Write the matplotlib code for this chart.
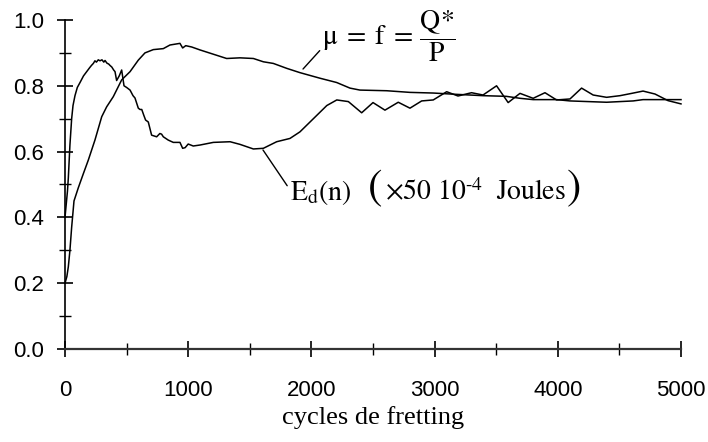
import matplotlib
matplotlib.use("Agg")
import matplotlib.pyplot as plt
from matplotlib.ticker import MultipleLocator, FormatStrFormatter

# ---- data ----
ed_n = [0, 10, 20, 27, 40, 54, 65, 81, 100, 122, 150, 176, 200, 215, 230, 243, 255, 270,
        284, 300, 315, 325, 340, 355, 365, 380, 395, 406, 419, 440, 460, 479, 500, 528,
        552, 568, 595, 609, 623, 640, 654, 676, 703, 744, 770, 784, 798, 838, 879, 933,
        955, 975, 1000, 1041, 1096, 1204, 1340, 1420, 1529, 1610, 1718, 1826, 1907, 2016,
        2125, 2206, 2300, 2408, 2500, 2597, 2705, 2800, 2895, 2989, 3098, 3190, 3300,
        3393, 3503, 3597, 3693, 3800, 3896, 3990, 4099, 4193, 4287, 4396, 4505, 4600,
        4692, 4789, 4894, 5000]
ed_val = [0.40, 0.44, 0.48, 0.52, 0.62, 0.70, 0.74, 0.77, 0.795, 0.81, 0.83, 0.843, 0.855,
          0.862, 0.868, 0.876, 0.872, 0.879, 0.876, 0.879, 0.872, 0.877, 0.869, 0.866,
          0.862, 0.857, 0.848, 0.843, 0.816, 0.83, 0.848, 0.80, 0.795, 0.787, 0.77, 0.763,
          0.732, 0.728, 0.728, 0.71, 0.696, 0.69, 0.65, 0.645, 0.655, 0.653, 0.645, 0.635,
          0.628, 0.628, 0.61, 0.612, 0.623, 0.617, 0.62, 0.628, 0.63, 0.622, 0.608, 0.61,
          0.63, 0.64, 0.66, 0.70, 0.74, 0.757, 0.752, 0.718, 0.749, 0.726, 0.75, 0.732,
          0.754, 0.757, 0.782, 0.769, 0.779, 0.772, 0.80, 0.749, 0.777, 0.762, 0.779,
          0.757, 0.76, 0.793, 0.772, 0.765, 0.77, 0.777, 0.784, 0.775, 0.755, 0.745]

mu_n = [0, 15, 27, 40, 54, 73, 108, 149, 189, 243, 298, 338, 392, 460, 528, 595, 649, 717,
        798, 852, 933, 955, 980, 1028, 1096, 1204, 1312, 1420, 1529, 1610, 1691, 1800,
        1907, 2070, 2205, 2313, 2394, 2611, 2800, 2989, 3178, 3393, 3581, 3693, 3800,
        3990, 4099, 4396, 4612, 4692, 5000]
mu_val = [0.20, 0.22, 0.25, 0.30, 0.37, 0.45, 0.49, 0.533, 0.574, 0.635, 0.706, 0.736,
          0.767, 0.818, 0.843, 0.878, 0.90, 0.91, 0.913, 0.924, 0.929, 0.915, 0.922, 0.918,
          0.909, 0.896, 0.883, 0.885, 0.883, 0.873, 0.868, 0.853, 0.84, 0.823, 0.81, 0.793,
          0.787, 0.785, 0.78, 0.778, 0.774, 0.77, 0.768, 0.762, 0.758, 0.758, 0.754, 0.75,
          0.754, 0.758, 0.758]

xlabel = "cycles de fretting"
mu_label = r"$\mathrm{\mu}\;=\;\mathrm{f}\;=\,\dfrac{\mathrm{Q}{*}}{\mathrm{P}}$"
ed_label = r"$\mathrm{E_d(n)}$"
ed_unit = r"$\times 50\ 10^{\mathrm{\text{-}4}}\ \ \mathrm{Joules}$"

plt.rcParams["mathtext.fontset"] = "stix"
plt.rcParams["font.family"] = ["Liberation Sans", "DejaVu Sans"]

fig = plt.figure(figsize=(7.08, 4.42), dpi=100)
ax = fig.add_axes([65 / 708, 93 / 442, 616 / 708, 329 / 442])

ax.plot(ed_n, ed_val, color="black", lw=1.1, clip_on=False)
ax.plot(mu_n, mu_val, color="black", lw=1.1, clip_on=False)

ax.set_xlim(0, 5000)
ax.set_ylim(0, 1.0)
for s in ("top", "right"):
    ax.spines[s].set_visible(False)
ax.spines["left"].set_linewidth(1.2)
ax.spines["bottom"].set_linewidth(1.6)
ax.spines["bottom"].set_color("#333333")

ax.xaxis.set_major_locator(MultipleLocator(1000))
ax.xaxis.set_minor_locator(MultipleLocator(500))
ax.yaxis.set_major_locator(MultipleLocator(0.2))
ax.yaxis.set_minor_locator(MultipleLocator(0.1))
ax.yaxis.set_major_formatter(FormatStrFormatter("%.1f"))

ax.tick_params(axis="both", which="major", direction="inout", length=12, width=1.2,
               labelsize=16, color="black")
ax.tick_params(axis="both", which="minor", direction="inout", length=8, width=1.0)
ax.tick_params(axis="x", which="major", pad=16)
ax.tick_params(axis="y", which="major", pad=9)

ax.set_xlabel(xlabel, family="Liberation Serif", fontsize=19, labelpad=4)

ax.annotate(mu_label, xy=(1932, 0.851), xytext=(2090, 0.95), textcoords="data",
            fontsize=20, ha="left", va="center",
            arrowprops=dict(arrowstyle="-", color="black", lw=1.0,
                            shrinkA=0, shrinkB=0, relpos=(0, 0.3)))
ax.annotate(ed_label, xy=(1607, 0.605), xytext=(1826, 0.475), textcoords="data",
            fontsize=20, ha="left", va="center",
            arrowprops=dict(arrowstyle="-", color="black", lw=1.0,
                            shrinkA=0, shrinkB=0, relpos=(0, 0.6)))
ax.text(2455, 0.487, "(", family="STIXGeneral", fontsize=31, ha="left", va="center")
ax.text(2600, 0.475, ed_unit, fontsize=20, ha="left", va="center")
ax.text(4075, 0.487, ")", family="STIXGeneral", fontsize=31, ha="left", va="center")

fig.savefig("out.png", dpi=100)
